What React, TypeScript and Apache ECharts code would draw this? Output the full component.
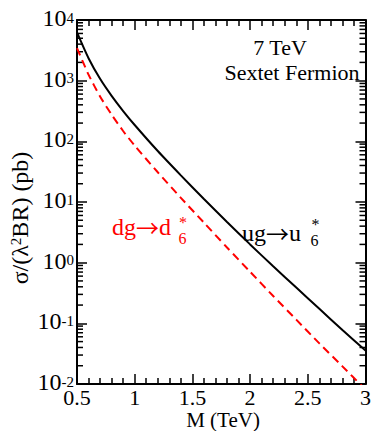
import React, { useEffect, useRef } from "react";
import * as echarts from "echarts";

const massTeV = [0.5, 0.6, 0.7, 0.8, 0.9, 1.0, 1.2, 1.4, 1.6, 1.8, 2.0, 2.2, 2.4, 2.6, 2.8, 3.0];
const ugSigma = [6237, 2344, 1072, 562, 316, 186, 69.2, 27.5, 11.2, 4.68, 2.0, 0.871, 0.389, 0.174, 0.0776, 0.0355];
const dgSigma = [3436, 1259, 550, 275, 148, 85.1, 30.9, 11.7, 4.57, 1.78, 0.708, 0.282, 0.115, 0.0468, 0.0195, 0.00813];
const xTicks = [0.5, 1, 1.5, 2, 2.5, 3];
const yDecades = [-2, -1, 0, 1, 2, 3, 4];
const minorMantissas = [2, 3, 4, 5, 6, 7, 8, 9];

const FONT = "'Liberation Serif', 'Times New Roman', serif";
const ARROW_FONT = "'Noto Sans CJK JP', 'DejaVu Sans', sans-serif";

export default function App() {
  const ref = useRef<HTMLDivElement>(null);
  useEffect(() => {
    if (!ref.current) return;
    const chart = echarts.init(ref.current, null, { renderer: "svg" });
    const minorVals: number[][] = [];
    for (let k = yDecades[0]; k < yDecades[yDecades.length - 1]; k++) {
      for (const m of minorMantissas) minorVals.push([0.5, m * Math.pow(10, k)]);
    }
    const yLabelFmt = (v: number) => {
      const e = Math.round(Math.log10(v));
      return "{b|10}{s|" + e + "}";
    };
    const xAxisBase = {
      type: "value",
      min: xTicks[0],
      max: xTicks[xTicks.length - 1],
      interval: 0.5,
      axisLine: { show: true, onZero: false, lineStyle: { color: "#000", width: 2 } },
      axisTick: { show: true, inside: true, length: 10, lineStyle: { color: "#000", width: 1.5 } },
      minorTick: { show: true, splitNumber: 5, length: 6, lineStyle: { color: "#000", width: 1.5 } },
      splitLine: { show: false },
    };
    const yAxisBase = {
      type: "log",
      logBase: 10,
      min: Math.pow(10, yDecades[0]),
      max: Math.pow(10, yDecades[yDecades.length - 1]),
      axisLine: { show: true, onZero: false, lineStyle: { color: "#000", width: 2 } },
      axisTick: { show: true, inside: true, length: 10, lineStyle: { color: "#000", width: 1.5 } },
      splitLine: { show: false },
    };
    const labelRich = (color: string) => ({
      m: { fontFamily: FONT, fontSize: 24, color },
      a: { fontFamily: ARROW_FONT, fontSize: 23, color },
    });
    chart.setOption({
      animation: false,
      grid: { left: 77, right: 5, top: 13, bottom: 47, containLabel: false },
      xAxis: [
        {
          ...xAxisBase,
          position: "bottom",
          axisLabel: {
            show: true,
            margin: 4,
            fontFamily: FONT,
            fontSize: 22,
            lineHeight: 18,
            color: "#000",
            formatter: (v: number) => String(v),
          },
        },
        { ...xAxisBase, position: "top", axisLabel: { show: false } },
      ],
      yAxis: [
        {
          ...yAxisBase,
          position: "left",
          axisLabel: {
            show: true,
            margin: 3,
            color: "#000",
            formatter: yLabelFmt,
            rich: {
              b: { fontFamily: FONT, fontSize: 24, color: "#000", verticalAlign: "bottom", lineHeight: 20, padding: [6, 0, 0, 0] },
              s: { fontFamily: FONT, fontSize: 15, color: "#000", verticalAlign: "top", lineHeight: 15 },
            },
          },
        },
        { ...yAxisBase, position: "right", axisLabel: { show: false } },
      ],
      series: [
        {
          type: "line",
          data: massTeV.map((m, i) => [m, ugSigma[i]]),
          smooth: 0.25,
          showSymbol: false,
          clip: true,
          lineStyle: { color: "#000", width: 2 },
        },
        {
          type: "line",
          data: massTeV.map((m, i) => [m, dgSigma[i]]),
          smooth: 0.25,
          showSymbol: false,
          clip: true,
          lineStyle: { color: "#ff0000", width: 2, type: [8, 5] },
        },
        {
          type: "custom",
          data: minorVals,
          silent: true,
          renderItem: (params: any, api: any) => {
            const pt = api.coord([api.value(0), api.value(1)]);
            const cs = params.coordSys;
            const l = cs.x;
            const r = cs.x + cs.width;
            const st = { stroke: "#000", lineWidth: 1.5 };
            return {
              type: "group",
              children: [
                { type: "line", shape: { x1: l, y1: pt[1], x2: l + 6, y2: pt[1] }, style: st },
                { type: "line", shape: { x1: r - 6, y1: pt[1], x2: r, y2: pt[1] }, style: st },
              ],
            };
          },
        },
      ],
      graphic: [
        { type: "text", x: 280, y: 47, style: { text: "7 TeV", font: `22px ${FONT}`, fill: "#000", align: "center", verticalAlign: "middle" } },
        { type: "text", x: 292, y: 72, style: { text: "Sextet Fermion", font: `22px ${FONT}`, fill: "#000", align: "center", verticalAlign: "middle" } },
        {
          type: "text",
          x: 112,
          y: 227,
          style: { text: "{m|dg}{a|\u2192}{m|d}", fill: "#ff0000", align: "left", verticalAlign: "middle", rich: labelRich("#ff0000") },
        },
        { type: "text", x: 183, y: 222.2, style: { text: "*", font: `16px ${FONT}`, lineHeight: 16, fill: "#ff0000", align: "center", verticalAlign: "middle" } },
        { type: "text", x: 182.5, y: 238.2, style: { text: "6", font: `16px ${FONT}`, lineHeight: 16, fill: "#ff0000", align: "center", verticalAlign: "middle" } },
        {
          type: "text",
          x: 242,
          y: 233,
          style: { text: "{m|ug}{a|\u2192}{m|u}", fill: "#000", align: "left", verticalAlign: "middle", rich: labelRich("#000") },
        },
        { type: "text", x: 315.5, y: 224.2, style: { text: "*", font: `16px ${FONT}`, lineHeight: 16, fill: "#000", align: "center", verticalAlign: "middle" } },
        { type: "text", x: 314.5, y: 240.2, style: { text: "6", font: `16px ${FONT}`, lineHeight: 16, fill: "#000", align: "center", verticalAlign: "middle" } },
        { type: "text", x: 223, y: 420, style: { text: "M (TeV)", font: `21px ${FONT}`, lineHeight: 21, fill: "#000", align: "center", verticalAlign: "middle" } },
        {
          type: "text",
          x: 20,
          y: 218,
          rotation: Math.PI / 2,
          style: {
            text: "{t|σ/(λ}{s|2}{t|BR) (pb)}",
            fill: "#000",
            align: "center",
            verticalAlign: "middle",
            rich: {
              t: { font: `24px ${FONT}`, fill: "#000", verticalAlign: "bottom", lineHeight: 24, padding: [5, 0, 0, 0] },
              s: { font: `15px ${FONT}`, fill: "#000", verticalAlign: "top", lineHeight: 15 },
            },
          },
        },
      ],
    });
    return () => chart.dispose();
  }, []);
  return (
    <div
      ref={ref}
      style={{ position: "fixed", left: 0, top: 0, width: 374, height: 431, background: "#fff" }}
    />
  );
}
